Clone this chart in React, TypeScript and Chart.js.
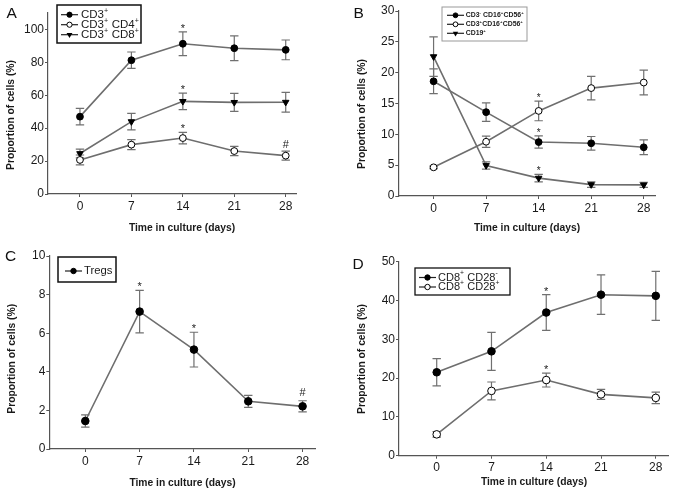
import React, { useEffect, useRef } from "react";
import { Chart, registerables } from "chart.js";

Chart.register(...registerables);

// ---------- data ----------
const days = [0, 7, 14, 21, 28];

// Panel A
const aTicksY = [0, 20, 40, 60, 80, 100];
const aCd3 = [47, 81.3, 91.3, 88.6, 87.6];
const aCd3Err = [5, 5, 7.2, 7.5, 6];
const aCd3Marks = ["", "", "*", "", ""];
const aCd4 = [20.7, 30, 34, 26.1, 23.3];
const aCd4Err = [3, 3, 3.5, 2.8, 2.7];
const aCd4Marks = ["", "", "*", "", "#"];
const aCd8 = [24.6, 44, 56.3, 55.7, 55.8];
const aCd8Err = [2.7, 5, 5, 5.5, 6];
const aCd8Marks = ["", "", "*", "", ""];

// Panel B
const bTicksY = [0, 5, 10, 15, 20, 25, 30];
const bNk = [18.6, 13.6, 8.75, 8.55, 7.9];
const bNkErr = [2, 1.5, 1, 1.1, 1.2];
const bNkMarks = ["", "", "*", "", ""];
const bNkt = [4.65, 8.8, 13.8, 17.5, 18.4];
const bNktErr = [0.2, 0.9, 1.6, 1.9, 2];
const bNktMarks = ["", "", "*", "", ""];
const bCd19 = [22.6, 4.95, 2.9, 1.85, 1.8];
const bCd19Err = [3.2, 0.6, 0.6, 0.45, 0.4];
const bCd19Marks = ["", "", "*", "", ""];

// Panel C
const cTicksY = [0, 2, 4, 6, 8, 10];
const cTregs = [1.45, 7.12, 5.15, 2.47, 2.21];
const cTregsErr = [0.32, 1.1, 0.9, 0.31, 0.29];
const cTregsMarks = ["", "*", "*", "", "#"];

// Panel D
const dTicksY = [0, 10, 20, 30, 40, 50];
const dCd28neg = [21.5, 26.9, 36.9, 41.5, 41.2];
const dCd28negErr = [3.5, 4.9, 4.6, 5.1, 6.3];
const dCd28negMarks = ["", "", "*", "", ""];
const dCd28pos = [5.5, 16.7, 19.5, 15.8, 14.9];
const dCd28posErr = [0.7, 2.3, 1.8, 1.3, 1.5];
const dCd28posMarks = ["", "", "*", "", ""];

const xTitle = "Time in culture (days)";
const yTitle = "Proportion of cells (%)";

// ---------- styling ----------
const FONT = "'Liberation Sans', Arial, Helvetica, sans-serif";
const LINE = "#6e6e6e";
const ERR = "#707070";
const AXIS = "#555555";
const TEXT = "#1a1a1a";

type Marker = "filled" | "open" | "tri";
type Series = { label: string; values: number[]; errors: number[]; marks: string[]; marker: Marker };
type Legend = {
  x: number; y: number; w: number; h: number; border: string; borderWidth: number;
  font: number; weight: string; row0: number; gap: number; s0: number; s1: number; tx: number; r: number;
};
type Panel = {
  letter: string; left: number; top: number; width: number; height: number;
  pad: { left: number; top: number; right: number; bottom: number };
  yW: number; xH: number; xMin: number; xMax: number; yMax: number; yTicks: number[];
  series: Series[]; legend: Legend; letterX: number; letterY: number; pointR: number;
  markFont: number; starGap: number; hashGap: number;
  xTitlePos: [number, number]; yTitlePos: [number, number];
};

const panels: Panel[] = [
  {
    letter: "A", left: 0, top: 0, width: 338, height: 245,
    pad: { left: 5, top: 13, right: 42, bottom: 11 }, yW: 43, xH: 40,
    xMin: -4.35, xMax: 29.4, yMax: 110, yTicks: aTicksY,
    series: [
      { label: "CD3^+", values: aCd3, errors: aCd3Err, marks: aCd3Marks, marker: "filled" },
      { label: "CD3^+ CD4^+", values: aCd4, errors: aCd4Err, marks: aCd4Marks, marker: "open" },
      { label: "CD3^+ CD8^+", values: aCd8, errors: aCd8Err, marks: aCd8Marks, marker: "tri" },
    ],
    legend: { x: 57, y: 5, w: 84, h: 38, border: "#111", borderWidth: 1.5, font: 11.5, weight: "normal", row0: 14.7, gap: 10, s0: 61, s1: 78, tx: 81, r: 2.6 },
    letterX: 6.5, letterY: 18.3, pointR: 3.4, markFont: 11, starGap: 0, hashGap: 3,
    xTitlePos: [182, 228], yTitlePos: [11.5, 115],
  },
  {
    letter: "B", left: 338, top: 0, width: 339, height: 245,
    pad: { left: 17.8, top: 11, right: 22, bottom: 11 }, yW: 42.5, xH: 38,
    xMin: -4.7, xMax: 29.5, yMax: 30, yTicks: bTicksY,
    series: [
      { label: "CD3^- CD16^+CD56^+", values: bNk, errors: bNkErr, marks: bNkMarks, marker: "filled" },
      { label: "CD3^+CD16^+CD56^+", values: bNkt, errors: bNktErr, marks: bNktMarks, marker: "open" },
      { label: "CD19^+", values: bCd19, errors: bCd19Err, marks: bCd19Marks, marker: "tri" },
    ],
    legend: { x: 104, y: 7, w: 85, h: 34, border: "#999", borderWidth: 1, font: 6.9, weight: "bold", row0: 15.3, gap: 9, s0: 109, s1: 126, tx: 127.7, r: 2.4 },
    letterX: 15.5, letterY: 18.3, pointR: 3.4, markFont: 10, starGap: 0, hashGap: 3,
    xTitlePos: [189, 227.8], yTitlePos: [24, 114],
  },
  {
    letter: "C", left: 0, top: 245, width: 338, height: 248,
    pad: { left: 5.5, top: 11, right: 23, bottom: 4 }, yW: 43.8, xH: 40,
    xMin: -4.64, xMax: 29.6, yMax: 10, yTicks: cTicksY,
    series: [
      { label: "Tregs", values: cTregs, errors: cTregsErr, marks: cTregsMarks, marker: "filled" },
    ],
    legend: { x: 58, y: 12, w: 58, h: 25, border: "#111", borderWidth: 1.5, font: 11.3, weight: "normal", row0: 26, gap: 10, s0: 65, s1: 82, tx: 84, r: 2.7 },
    letterX: 5, letterY: 16, pointR: 3.8, markFont: 11, starGap: 0, hashGap: 5,
    xTitlePos: [182.5, 238.5], yTitlePos: [11.7, 113.8],
  },
  {
    letter: "D", left: 338, top: 245, width: 339, height: 248,
    pad: { left: 17.8, top: 16.7, right: 8.7, bottom: 5.3 }, yW: 43.2, xH: 32,
    xMin: -4.82, xMax: 29.6, yMax: 50, yTicks: dTicksY,
    series: [
      { label: "CD8^+ CD28^-", values: dCd28neg, errors: dCd28negErr, marks: dCd28negMarks, marker: "filled" },
      { label: "CD8^+ CD28^+", values: dCd28pos, errors: dCd28posErr, marks: dCd28posMarks, marker: "open" },
    ],
    legend: { x: 77, y: 23, w: 95, h: 27, border: "#111", borderWidth: 1.3, font: 11, weight: "normal", row0: 32.5, gap: 9.5, s0: 81, s1: 98, tx: 100, r: 2.7 },
    letterX: 14.5, letterY: 24, pointR: 3.8, markFont: 11, starGap: 0, hashGap: 3,
    xTitlePos: [196, 237.5], yTitlePos: [24, 114],
  },
];

// ---------- helpers ----------
function drawRich(ctx: CanvasRenderingContext2D, text: string, x: number, y: number, size: number, weight: string) {
  const segs: { t: string; sup: boolean }[] = [];
  let buf = "";
  for (let i = 0; i < text.length; i++) {
    if (text[i] === "^" && i + 1 < text.length) {
      if (buf) segs.push({ t: buf, sup: false });
      buf = "";
      segs.push({ t: text[i + 1], sup: true });
      i++;
    } else buf += text[i];
  }
  if (buf) segs.push({ t: buf, sup: false });
  let cx = x;
  ctx.textAlign = "left";
  ctx.textBaseline = "middle";
  for (const s of segs) {
    const fs = s.sup ? size * 0.62 : size;
    ctx.font = `${weight} ${fs}px ${FONT}`;
    ctx.fillText(s.t, cx, s.sup ? y - size * 0.36 : y);
    cx += ctx.measureText(s.t).width + (s.sup ? 0.3 : 0);
  }
}

function drawMarker(ctx: CanvasRenderingContext2D, m: Marker, x: number, y: number, r: number) {
  ctx.beginPath();
  if (m === "tri") {
    const R = r * 1.3;
    ctx.moveTo(x, y + R);
    ctx.lineTo(x - R * 0.866, y - R * 0.5);
    ctx.lineTo(x + R * 0.866, y - R * 0.5);
    ctx.closePath();
    ctx.fillStyle = "#000";
    ctx.fill();
    return;
  }
  ctx.arc(x, y, r, 0, Math.PI * 2);
  ctx.fillStyle = m === "open" ? "#fff" : "#000";
  ctx.fill();
  ctx.lineWidth = 1;
  ctx.strokeStyle = "#000";
  ctx.stroke();
}

function makeOverlay(p: Panel) {
  return {
    id: "overlay" + p.letter,
    beforeDatasetsDraw(chart: any) {
      const ctx: CanvasRenderingContext2D = chart.ctx;
      const xs = chart.scales.x;
      const ys = chart.scales.y;
      ctx.save();
      ctx.strokeStyle = ERR;
      ctx.lineWidth = 1.2;
      p.series.forEach((s) => {
        s.values.forEach((v, j) => {
          const x = xs.getPixelForValue(days[j]);
          const yt = ys.getPixelForValue(v + s.errors[j]);
          const yb = ys.getPixelForValue(v - s.errors[j]);
          const c = 4.2;
          ctx.beginPath();
          ctx.moveTo(x, yt);
          ctx.lineTo(x, yb);
          ctx.moveTo(x - c, yt);
          ctx.lineTo(x + c, yt);
          ctx.moveTo(x - c, yb);
          ctx.lineTo(x + c, yb);
          ctx.stroke();
        });
      });
      ctx.restore();
    },
    afterDatasetsDraw(chart: any) {
      const ctx: CanvasRenderingContext2D = chart.ctx;
      const xs = chart.scales.x;
      const ys = chart.scales.y;
      ctx.save();
      // significance marks
      ctx.fillStyle = "#222";
      ctx.textAlign = "center";
      ctx.textBaseline = "alphabetic";
      ctx.font = `normal ${p.markFont}px ${FONT}`;
      p.series.forEach((s) => {
        s.marks.forEach((mk, j) => {
          if (!mk) return;
          const x = xs.getPixelForValue(days[j]);
          const yt = ys.getPixelForValue(s.values[j] + s.errors[j]);
          const g = mk === "#" ? p.hashGap : p.starGap;
          ctx.fillText(mk, x, yt - g);
        });
      });
      // axis titles
      ctx.fillStyle = TEXT;
      ctx.font = `bold 10.3px ${FONT}`;
      ctx.textAlign = "center";
      ctx.textBaseline = "middle";
      ctx.fillText(xTitle, p.xTitlePos[0], p.xTitlePos[1]);
      ctx.save();
      ctx.translate(p.yTitlePos[0], p.yTitlePos[1]);
      ctx.rotate(-Math.PI / 2);
      ctx.fillText(yTitle, 0, 0);
      ctx.restore();
      // legend
      const L = p.legend;
      ctx.fillStyle = "#fff";
      ctx.fillRect(L.x, L.y, L.w, L.h);
      ctx.strokeStyle = L.border;
      ctx.lineWidth = L.borderWidth;
      ctx.strokeRect(L.x, L.y, L.w, L.h);
      p.series.forEach((s, i) => {
        const y = L.row0 + i * L.gap;
        ctx.strokeStyle = "#222";
        ctx.lineWidth = 1.2;
        ctx.beginPath();
        ctx.moveTo(L.s0, y);
        ctx.lineTo(L.s1, y);
        ctx.stroke();
        drawMarker(ctx, s.marker, (L.s0 + L.s1) / 2, y, L.r);
        ctx.fillStyle = TEXT;
        drawRich(ctx, s.label, L.tx, y, L.font, L.weight);
      });
      // panel letter
      ctx.fillStyle = "#111";
      ctx.textAlign = "left";
      ctx.textBaseline = "alphabetic";
      ctx.font = `normal 15.5px ${FONT}`;
      ctx.fillText(p.letter, p.letterX, p.letterY);
      ctx.restore();
    },
  };
}

function buildConfig(p: Panel): any {
  const tickFont = { family: FONT, size: 12 };
  return {
    type: "line",
    data: {
      datasets: p.series.map((s) => ({
        label: s.label,
        data: s.values.map((v, j) => ({ x: days[j], y: v })),
        borderColor: LINE,
        borderWidth: 1.6,
        tension: 0,
        fill: false,
        pointStyle: s.marker === "tri" ? "triangle" : "circle",
        pointRotation: s.marker === "tri" ? 180 : 0,
        pointRadius: s.marker === "tri" ? p.pointR * 1.1 : p.pointR,
        pointBackgroundColor: s.marker === "open" ? "#fff" : "#000",
        pointBorderColor: "#000",
        pointBorderWidth: 1,
        clip: false,
      })),
    },
    options: {
      animation: false,
      responsive: false,
      maintainAspectRatio: false,
      events: [],
      layout: { padding: p.pad },
      plugins: { legend: { display: false }, tooltip: { enabled: false }, title: { display: false } },
      scales: {
        x: {
          type: "linear",
          min: p.xMin,
          max: p.xMax,
          afterBuildTicks: (sc: any) => { sc.ticks = days.map((v) => ({ value: v })); },
          afterFit: (sc: any) => { sc.height = p.xH; },
          ticks: { font: tickFont, color: TEXT, padding: 2, maxRotation: 0, autoSkip: false },
          grid: { drawOnChartArea: false, drawTicks: true, tickLength: 3, color: AXIS, lineWidth: 1 },
          border: { display: true, color: AXIS, width: 1.2 },
          title: { display: false },
        },
        y: {
          type: "linear",
          min: 0,
          max: p.yMax,
          afterBuildTicks: (sc: any) => { sc.ticks = p.yTicks.map((v) => ({ value: v })); },
          afterFit: (sc: any) => { sc.width = p.yW; },
          ticks: { font: tickFont, color: TEXT, padding: 1 },
          grid: { drawOnChartArea: false, drawTicks: true, tickLength: 3, color: AXIS, lineWidth: 1 },
          border: { display: true, color: AXIS, width: 1.2 },
          title: { display: false },
        },
      },
    },
    plugins: [makeOverlay(p)],
  };
}

function PanelChart({ p }: { p: Panel }) {
  const ref = useRef<HTMLCanvasElement>(null);
  useEffect(() => {
    if (!ref.current) return;
    const chart = new Chart(ref.current, buildConfig(p));
    return () => chart.destroy();
  }, [p]);
  return (
    <div style={{ position: "absolute", left: p.left, top: p.top, width: p.width, height: p.height }}>
      <canvas ref={ref} width={p.width} height={p.height} style={{ width: p.width, height: p.height, display: "block" }} />
    </div>
  );
}

export default function App() {
  return (
    <div style={{ position: "absolute", left: 0, top: 0, width: 677, height: 493, background: "#fff", overflow: "hidden" }}>
      {panels.map((p) => (
        <PanelChart key={p.letter} p={p} />
      ))}
    </div>
  );
}
